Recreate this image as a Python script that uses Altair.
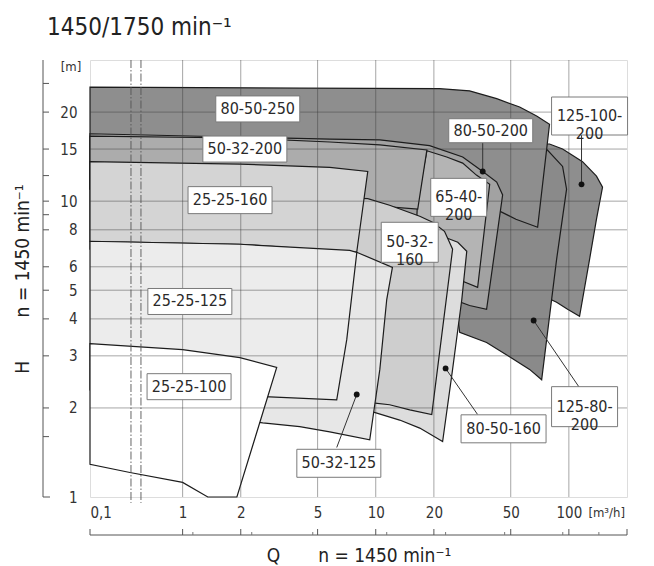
import math
import altair as alt
import pandas as pd

# ---------------- data: pump operating fields (Q in m3/h, H in m) ----------------
Q_80_50_250 = [0.1, 4.04, 21.4, 30.6, 42.3, 55.6, 68.1, 79.4, 68.9, 53.2, 43.8, 34.5, 21.4, 4.04, 0.1]
H_80_50_250 = [24.3, 24.1, 24.0, 23.6, 22.2, 20.8, 19.4, 18.2, 8.16, 8.69, 9.25, 9.69, 10.3, 10.98, 10.98]

Q_125_100_200 = [30.6, 55.6, 79.4, 92.8, 117.7, 139, 149.4, 139, 128, 113.6, 98.5, 86.4, 62.6, 34.5]
H_125_100_200 = [15.0, 15.6, 15.6, 15.0, 13.6, 12.15, 11.15, 8.69, 6.36, 4.08, 4.31, 4.55, 5.03, 6.88]

Q_125_80_200 = [27.2, 55.6, 76.6, 92.8, 97.3, 86.4, 72.3, 62.6, 49.3, 37.5, 27.2, 25.9]
H_125_80_200 = [15.0, 15.85, 15.0, 13.1, 10.98, 6.36, 2.49, 2.70, 2.98, 3.33, 3.60, 4.65]

Q_80_50_200 = [0.1, 5.78, 10.5, 19.0, 28.2, 35.8, 42.3, 45.4, 37.5, 30.6, 21.4, 4.04, 0.1]
H_80_50_200 = [16.9, 16.2, 16.1, 15.4, 14.1, 12.6, 11.6, 10.5, 4.31, 4.44, 4.84, 6.88, 6.88]

Q_65_40_200 = [18.4, 23.3, 28.2, 33.2, 38.9, 33.7, 28.2, 21.4, 15.9, 16.5]
H_65_40_200 = [14.8, 14.1, 13.45, 12.25, 11.4, 5.11, 5.36, 5.79, 6.36, 10.2]

Q_50_32_200 = [0.1, 1.98, 5.78, 10.5, 18.4, 16.5, 8.98, 4.04, 0.1]
H_50_32_200 = [16.6, 16.35, 15.85, 15.5, 14.9, 9.40, 9.69, 10.3, 10.98]

Q_80_50_160 = [5.78, 13.3, 21.4, 26.6, 29.6, 27.9, 25.0, 22.2, 16.9, 13.3, 9.65, 5.78]
H_80_50_160 = [9.03, 8.16, 7.67, 7.26, 6.77, 4.65, 2.70, 1.54, 1.71, 1.82, 1.94, 2.05]

Q_50_32_160 = [5.78, 9.09, 11.8, 16.9, 19.7, 22.7, 25.0, 19.5, 15.0, 11.8, 9.65, 5.78]
H_50_32_160 = [10.3, 10.2, 9.69, 8.89, 8.49, 7.91, 6.88, 1.90, 1.97, 2.05, 2.08, 2.17]

Q_25_25_160 = [0.1, 1.98, 5.78, 9.09, 7.97, 1.98, 0.1]
H_25_25_160 = [13.6, 13.35, 13.0, 12.6, 6.72, 7.15, 7.32]

Q_50_32_125 = [1.23, 4.04, 7.97, 12.2, 11.4, 10.5, 9.31, 5.78, 4.04, 2.60, 1.23]
H_50_32_125 = [6.98, 6.93, 6.72, 5.97, 4.65, 2.70, 1.56, 1.66, 1.73, 1.78, 1.90]

Q_25_25_125 = [0.1, 1.98, 7.34, 7.98, 7.08, 6.28, 2.83, 1.23, 0.1]
H_25_25_125 = [7.32, 7.15, 6.82, 6.71, 3.41, 2.13, 2.18, 2.22, 2.30]

Q_25_25_100 = [0.1, 1.0, 1.98, 3.07, 1.91, 1.35, 1.0, 0.27, 0.1]
H_25_25_100 = [3.30, 3.15, 2.96, 2.74, 1.0, 1.0, 1.12, 1.21, 1.29]

# drawing order back to front
PUMPS = ["125-100-200", "125-80-200", "80-50-250", "80-50-200", "65-40-200", "50-32-200",
         "80-50-160", "50-32-160", "25-25-160", "50-32-125", "25-25-125", "25-25-100"]
POLY_Q = [Q_125_100_200, Q_125_80_200, Q_80_50_250, Q_80_50_200, Q_65_40_200, Q_50_32_200,
          Q_80_50_160, Q_50_32_160, Q_25_25_160, Q_50_32_125, Q_25_25_125, Q_25_25_100]
POLY_H = [H_125_100_200, H_125_80_200, H_80_50_250, H_80_50_200, H_65_40_200, H_50_32_200,
          H_80_50_160, H_50_32_160, H_25_25_160, H_50_32_125, H_25_25_125, H_25_25_100]

# labels
LABEL_TEXT = ["80-50-250", "50-32-200", "25-25-160", "25-25-125", "25-25-100", "50-32-125",
              "50-32-\n160", "65-40-\n200", "80-50-200", "125-100-\n200", "125-80-\n200", "80-50-160"]
LABEL_Q = [2.45, 2.10, 1.76, 1.09, 1.08, 6.44, 15.0, 26.9, 39.4, 128, 120.6, 45.9]
LABEL_H = [20.5, 15.0, 10.08, 4.58, 2.36, 1.30, 7.26, 10.3, 17.3, 19.4, 2.02, 1.70]

# marker dots and leader lines (dot -> label)
DOT_Q = [35.8, 116.3, 65.7, 23.0, 7.97]
DOT_H = [12.6, 11.4, 3.95, 2.72, 2.22]
LEAD_Q2 = [35.8, 116.3, 113.6, 33.7, 6.28]
LEAD_H2 = [15.85, 16.9, 2.34, 1.90, 1.47]

# axes
X_TICKS = [0.1, 1, 2, 5, 10, 20, 50, 100]
X_GRID = [1, 2, 5, 10, 20, 50, 100]
Y_TICKS = [1, 2, 3, 4, 5, 6, 8, 10, 15, 20]
Y_GRID = [2, 3, 4, 5, 6, 8, 10, 15, 20]
BREAK_Q = [0.277, 0.355]
SEC_X_MAJOR = [0.1, 1, 2, 5, 10, 20, 50, 100, 200]
SEC_X_MINOR = [1.13, 2.28, 4.72, 11.4, 23, 46.5, 93, 143]
SEC_Y_TICKS = [1.6, 2, 3, 4, 5, 6, 8, 9, 10, 12.2, 15, 20, 25]

# ---------------- styles ----------------
FILLS = {"80-50-250": "#8e8e8e", "125-100-200": "#8e8e8e", "125-80-200": "#8a8a8a",
         "80-50-200": "#a2a2a2", "65-40-200": "#b4b4b4", "50-32-200": "#acacac",
         "80-50-160": "#dddddd", "50-32-160": "#cecece", "25-25-160": "#d4d4d4",
         "50-32-125": "#e7e7e7", "25-25-125": "#ececec", "25-25-100": "#ffffff"}
BOX = {"80-50-250": (84, 26), "50-32-200": (84, 26), "25-25-160": (84, 27), "25-25-125": (84, 26),
       "25-25-100": (84, 26), "50-32-125": (84, 28), "50-32-\n160": (57, 40), "65-40-\n200": (56, 38),
       "80-50-200": (84, 24), "125-100-\n200": (76, 38), "125-80-\n200": (66, 40), "80-50-160": (85, 28)}
FONT = "DejaVu Sans Condensed, Roboto Condensed, Roboto, DejaVu Sans, sans-serif"
W, HT = 537, 437
COMPRESS = 0.4796  # scale factor of the 0.1..1 decade
NB = "\u00a0"


def xt_expr(f):
    return f"datum.{f} >= 1 ? log(datum.{f}) / LN10 : {COMPRESS} * log(datum.{f}) / LN10"


def xt_py(q):
    return math.log10(q) if q >= 1 else COMPRESS * math.log10(q)


# ---------------- tables ----------------
rows = []
for name, qs, hs in zip(PUMPS, POLY_Q, POLY_H):
    for i, (q, h) in enumerate(zip(qs, hs)):
        rows.append({"pump": name, "seq": i, "Q": q, "H": h})
poly_df = pd.DataFrame(rows)

lab_df = pd.DataFrame({"label": LABEL_TEXT, "Q": LABEL_Q, "H": LABEL_H})
lab_df["shape"] = [f"M-1,{-BOX[t][1] / BOX[t][0]:.4f}H1V{BOX[t][1] / BOX[t][0]:.4f}H-1Z" for t in LABEL_TEXT]
lab_df["size"] = [BOX[t][0] ** 2 for t in LABEL_TEXT]

dot_df = pd.DataFrame({"Q": DOT_Q, "H": DOT_H, "Q2": LEAD_Q2, "H2": LEAD_H2})

x_scale = alt.Scale(domain=[xt_py(0.1), xt_py(200)], nice=False, zero=False)
y_scale = alt.Scale(type="log", domain=[1, 30], nice=False)

x_axis = alt.Axis(values=[xt_py(v) for v in X_TICKS],
                  labelExpr="datum.value < -0.3 ? '0,1' : format(pow(10, datum.value), '.0f')",
                  grid=False, ticks=False, tickSize=0, domain=False, labelPadding=8,
                  labelFontSize=15, labelColor="#333", labelFont=FONT,
                  title="Q" + NB * 7 + "n = 1450 min\u207b\u00b9", titleFont=FONT, titleFontSize=19,
                  titleFontWeight="normal", titleColor="#222", titleX=W / 2, titleY=64,
                  titleAlign="center", titleBaseline="alphabetic", titleAnchor="middle")
y_axis = alt.Axis(values=Y_TICKS, grid=False, ticks=False, tickSize=0, domain=False,
                  labelPadding=13, labelFontSize=15, labelColor="#333", labelFont=FONT,
                  title="H" + NB * 8 + "n = 1450 min\u207b\u00b9", titleFont=FONT, titleFontSize=19,
                  titleFontWeight="normal", titleColor="#222", titleAngle=270, titleX=-62,
                  titleY=HT / 2, titleAlign="center", titleBaseline="alphabetic")

X = alt.X("xt:Q", scale=x_scale, axis=x_axis)
Y = alt.Y("H:Q", scale=y_scale, axis=y_axis)

layers = []
for name in PUMPS:
    layers.append(
        alt.Chart(poly_df)
        .transform_filter(alt.datum.pump == name)
        .transform_calculate(xt=xt_expr("Q"))
        .mark_line(interpolate="linear-closed", fill=FILLS[name], stroke="#1c1c1c", strokeWidth=1.2)
        .encode(x=X, y=Y, order="seq:Q")
    )

# grid
layers.append(
    alt.Chart(pd.DataFrame({"Q": X_GRID})).transform_calculate(xt=xt_expr("Q"))
    .mark_rule(stroke="#3a3a3a", strokeWidth=0.9, opacity=0.5).encode(x=X)
)
layers.append(
    alt.Chart(pd.DataFrame({"H": Y_GRID}))
    .mark_rule(stroke="#3a3a3a", strokeWidth=0.9, opacity=0.5).encode(y=Y)
)
# scale break lines
layers.append(
    alt.Chart(pd.DataFrame({"Q": BREAK_Q, "H": [30] * 2, "H2": [0.955] * 2}))
    .transform_calculate(xt=xt_expr("Q"))
    .mark_rule(stroke="#555", strokeWidth=0.9, strokeDash=[8, 2, 1.5, 2])
    .encode(x=X, y=Y, y2="H2:Q")
)
# leader lines and dots
layers.append(
    alt.Chart(dot_df).transform_calculate(xt=xt_expr("Q"), xt2=xt_expr("Q2"))
    .mark_rule(stroke="#333", strokeWidth=1).encode(x=X, x2="xt2:Q", y=Y, y2="H2:Q")
)
layers.append(
    alt.Chart(dot_df).transform_calculate(xt=xt_expr("Q"))
    .mark_circle(size=34, color="#111", opacity=1).encode(x=X, y=Y)
)
# label boxes + text
layers.append(
    alt.Chart(lab_df).transform_calculate(xt=xt_expr("Q"))
    .mark_point(filled=True, fill="white", stroke="#7a7a7a", strokeWidth=1, opacity=1)
    .encode(x=X, y=Y, shape=alt.Shape("shape:N", scale=None), size=alt.Size("size:Q", scale=None))
)
layers.append(
    alt.Chart(lab_df).transform_calculate(xt=xt_expr("Q"))
    .mark_text(font=FONT, fontSize=16, color="#2a2a2a", lineBreak="\n", lineHeight=18,
               align="center", baseline="middle")
    .encode(x=X, y=Y, text="label:N")
)
# unit labels
layers.append(
    alt.Chart(pd.DataFrame({"H": [28.3], "t": ["[m]"]}))
    .mark_text(font=FONT, fontSize=13, color="#333", align="center", baseline="middle")
    .encode(x=alt.value(-19), y=Y, text="t:N")
)
layers.append(
    alt.Chart(pd.DataFrame({"Q": [157], "t": ["[m\u00b3/h]"]})).transform_calculate(xt=xt_expr("Q"))
    .mark_text(font=FONT, fontSize=13, color="#333", align="center", baseline="middle")
    .encode(x=X, y=alt.value(HT + 16), text="t:N")
)
# secondary bottom scale
layers.append(
    alt.Chart(pd.DataFrame({"Q": [0.1], "Q2": [200]}))
    .transform_calculate(xt=xt_expr("Q"), xt2=xt_expr("Q2"))
    .mark_rule(stroke="#555", strokeWidth=1).encode(x=X, x2="xt2:Q", y=alt.value(HT + 38))
)
layers.append(
    alt.Chart(pd.DataFrame({"Q": SEC_X_MAJOR})).transform_calculate(xt=xt_expr("Q"))
    .mark_rule(stroke="#555", strokeWidth=1).encode(x=X, y=alt.value(HT + 32), y2=alt.value(HT + 38))
)
layers.append(
    alt.Chart(pd.DataFrame({"Q": SEC_X_MINOR})).transform_calculate(xt=xt_expr("Q"))
    .mark_rule(stroke="#777", strokeWidth=1).encode(x=X, y=alt.value(HT + 35), y2=alt.value(HT + 38))
)
# secondary left scale
layers.append(
    alt.Chart(pd.DataFrame({"d": [0]}))
    .mark_rule(stroke="#555", strokeWidth=1).encode(x=alt.value(-47), y=alt.value(0), y2=alt.value(HT))
)
layers.append(
    alt.Chart(pd.DataFrame({"d": [0]}))
    .mark_rule(stroke="#555", strokeWidth=1).encode(x=alt.value(-47), x2=alt.value(-40), y=alt.value(HT))
)
layers.append(
    alt.Chart(pd.DataFrame({"H": SEC_Y_TICKS}))
    .mark_rule(stroke="#555", strokeWidth=1).encode(x=alt.value(-47), x2=alt.value(-41), y=Y)
)
# main title
layers.append(
    alt.Chart(pd.DataFrame({"t": ["1450/1750 min\u207b\u00b9"]}))
    .mark_text(font=FONT, fontSize=24, color="#222", align="left", baseline="alphabetic")
    .encode(x=alt.value(-43), y=alt.value(-25), text="t:N")
)

chart = (
    alt.layer(*layers)
    .properties(width=W, height=HT, autosize="none",
                padding={"left": 90, "top": 60, "right": 27, "bottom": 69})
    .configure_view(stroke="#8a8a8a", strokeWidth=1)
    .configure(background="white")
)

chart.save("out.html", embed_options={"renderer": "svg", "actions": False})
